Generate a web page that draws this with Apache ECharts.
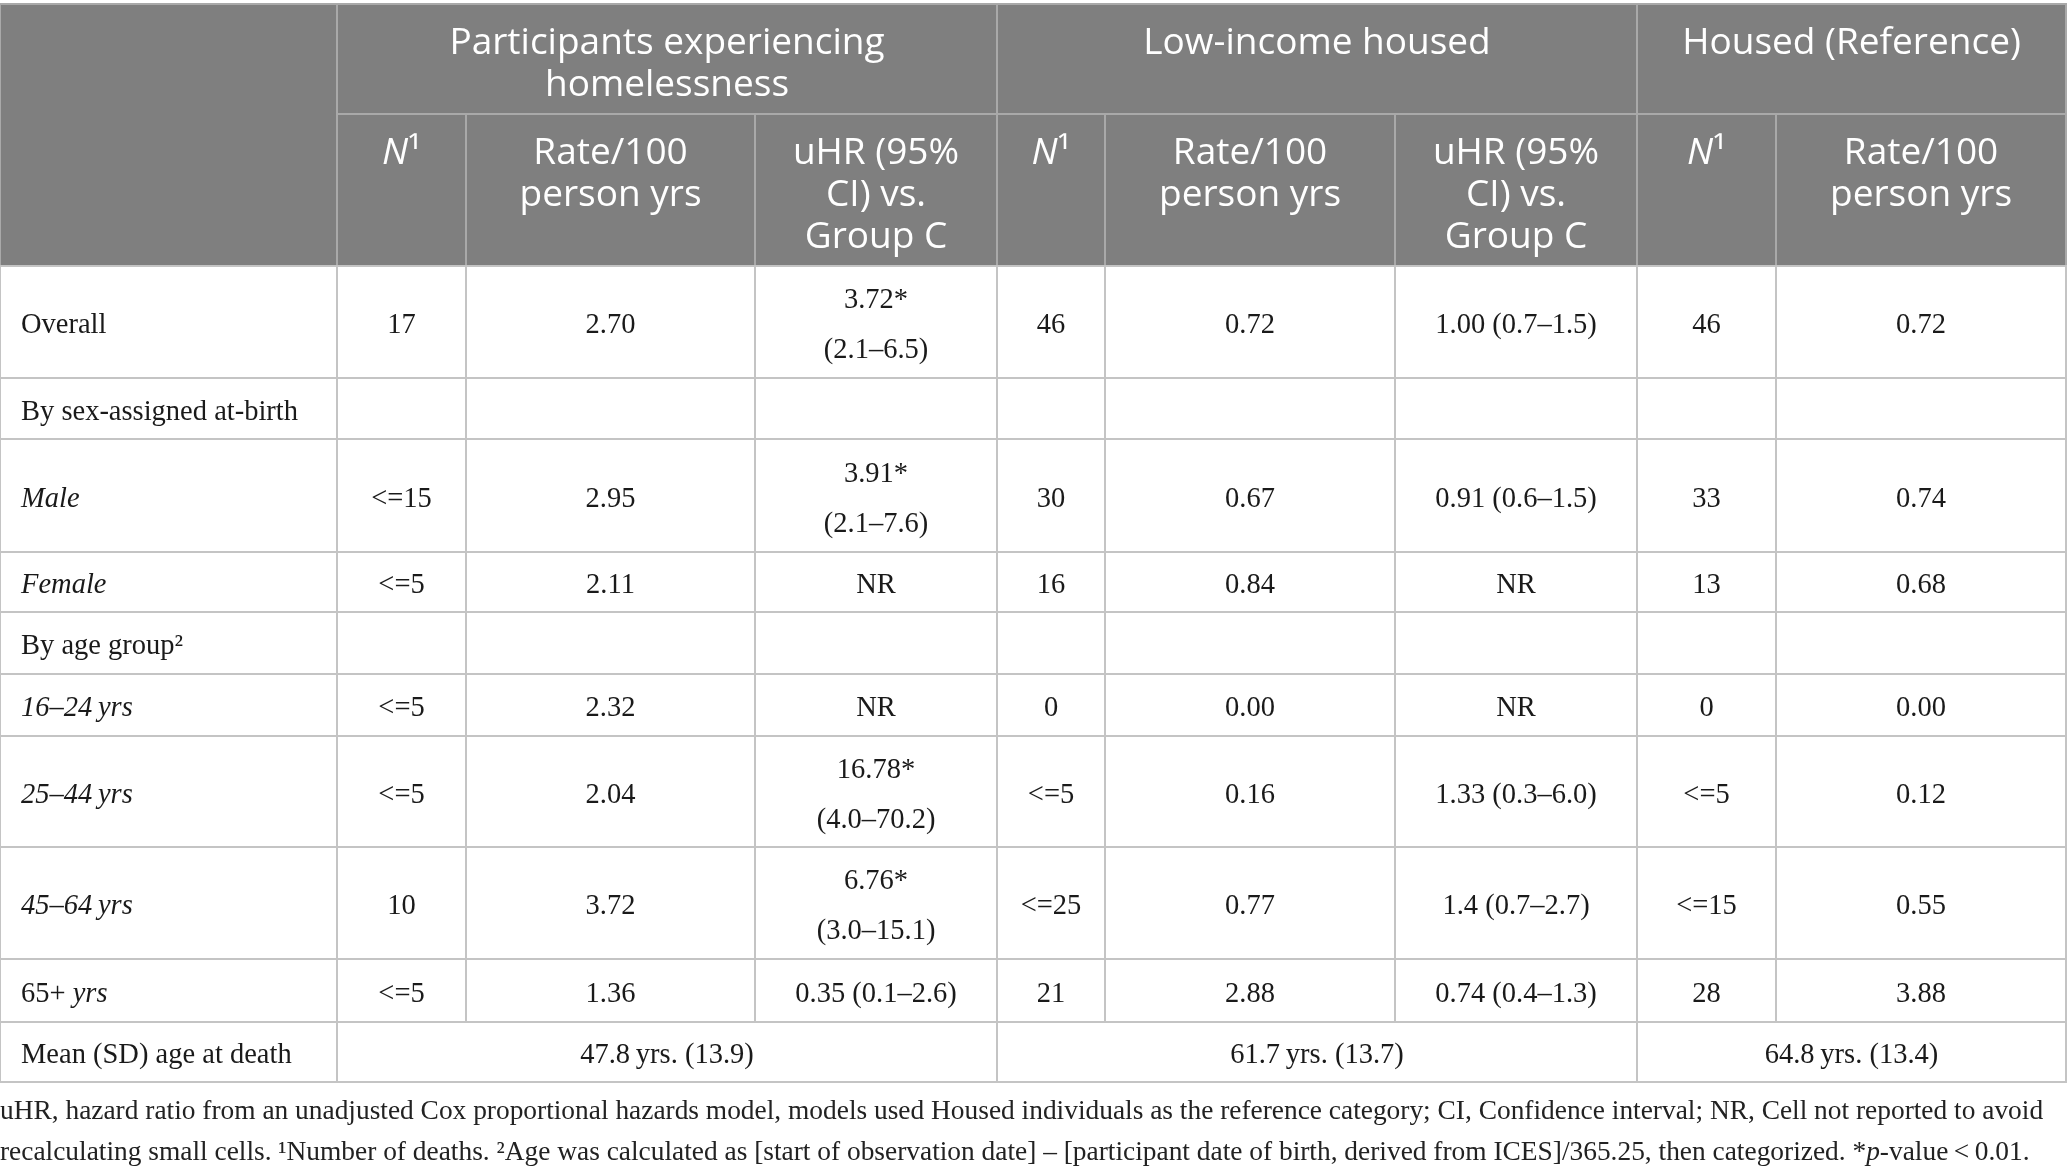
<!DOCTYPE html>
<html>
<head>
<meta charset="utf-8">
<script src="https://cdn.jsdelivr.net/npm/echarts@6/dist/echarts.min.js"></script>
<style>html,body{margin:0;padding:0;background:#fff}#c{width:2067px;height:1174px}</style>
</head>
<body>
<div id="c"></div>
<script>
// ---------- DATA ----------
const groupHeaders = ['Participants experiencing\nhomelessness', 'Low-income housed', 'Housed (Reference)'];
const subHeaders = ['{hi|N}¹', 'Rate/100\nperson yrs', 'uHR (95%\nCI) vs.\nGroup C',
                    '{hi|N}¹', 'Rate/100\nperson yrs', 'uHR (95%\nCI) vs.\nGroup C',
                    '{hi|N}¹', 'Rate/100\nperson yrs'];
const rowLabels = ['Overall', 'By sex-assigned at-birth', '{i|Male}', '{i|Female}', 'By age group²',
                   '{i|16–24\u2009yrs}', '{i|25–44\u2009yrs}', '{i|45–64\u2009yrs}', '65+ {i|yrs}', 'Mean (SD) age at death'];
const homelessN    = ['17', '', '<=15', '<=5', '', '<=5', '<=5', '10', '<=5'];
const homelessRate = ['2.70', '', '2.95', '2.11', '', '2.32', '2.04', '3.72', '1.36'];
const homelessHR   = ['3.72*\n(2.1–6.5)', '', '3.91*\n(2.1–7.6)', 'NR', '', 'NR', '16.78*\n(4.0–70.2)', '6.76*\n(3.0–15.1)', '0.35 (0.1–2.6)'];
const lowIncN      = ['46', '', '30', '16', '', '0', '<=5', '<=25', '21'];
const lowIncRate   = ['0.72', '', '0.67', '0.84', '', '0.00', '0.16', '0.77', '2.88'];
const lowIncHR     = ['1.00 (0.7–1.5)', '', '0.91 (0.6–1.5)', 'NR', '', 'NR', '1.33 (0.3–6.0)', '1.4 (0.7–2.7)', '0.74 (0.4–1.3)'];
const housedN      = ['46', '', '33', '13', '', '0', '<=5', '<=15', '28'];
const housedRate   = ['0.72', '', '0.74', '0.68', '', '0.00', '0.12', '0.55', '3.88'];
const meanAge      = ['47.8\u2009yrs. (13.9)', '61.7\u2009yrs. (13.7)', '64.8\u2009yrs. (13.4)'];
const footnoteLines = [
  'uHR, hazard ratio from an unadjusted Cox proportional hazards model, models used Housed individuals as the reference category; CI, Confidence interval; NR, Cell not reported to avoid',
  'recalculating small cells. ¹Number of deaths. ²Age was calculated as [start of observation date] – [participant date of birth, derived from ICES]/365.25, then categorized. *{i|p}-value\u2009<\u20090.01.'
];

// ---------- LAYOUT ----------
const colEdges = [0, 337, 466, 755, 997, 1105, 1395, 1637, 1776, 2066];
const rowEdges = [4, 114, 266, 378, 439, 552, 612, 674, 736, 847, 959, 1022, 1082];
const groupSpans = [[1, 4], [4, 7], [7, 9]];

const HEAD_FONT = 'Open Sans';
const BODY_FONT = 'Liberation Serif';
const HEAD_SIZE = 37, BODY_SIZE = 28.5, FOOT_SIZE = 27.4;

// build cell list
const cells = [];
cells.push({c0: 0, c1: 1, r0: 0, r1: 2, text: '', kind: 'head'});
groupHeaders.forEach((t, i) => cells.push({c0: groupSpans[i][0], c1: groupSpans[i][1], r0: 0, r1: 1, text: t, kind: 'head'}));
subHeaders.forEach((t, i) => cells.push({c0: i + 1, c1: i + 2, r0: 1, r1: 2, text: t, kind: 'head'}));
const valueCols = [homelessN, homelessRate, homelessHR, lowIncN, lowIncRate, lowIncHR, housedN, housedRate];
rowLabels.forEach((lab, i) => {
  const r = i + 2;
  cells.push({c0: 0, c1: 1, r0: r, r1: r + 1, text: lab, kind: 'body', left: true});
  if (i < 9) {
    valueCols.forEach((arr, j) => cells.push({c0: j + 1, c1: j + 2, r0: r, r1: r + 1, text: arr[i], kind: 'body'}));
  } else {
    meanAge.forEach((t, k) => cells.push({c0: groupSpans[k][0], c1: groupSpans[k][1], r0: r, r1: r + 1, text: t, kind: 'body'}));
  }
});

const cellData = cells.map(c => [colEdges[c.c0], rowEdges[c.r0], colEdges[c.c1], rowEdges[c.r1]]);

function renderItem(params, api) {
  const c = cells[params.dataIndex];
  const p0 = api.coord([api.value(0), api.value(1)]);
  const p1 = api.coord([api.value(2), api.value(3)]);
  const x = p0[0], y = Math.min(p0[1], p1[1]);
  const w = p1[0] - p0[0], h = Math.abs(p1[1] - p0[1]);
  const head = c.kind === 'head';
  const children = [{
    type: 'rect',
    shape: {x: x, y: y, width: w, height: h},
    style: {fill: head ? '#7f7f7f' : '#ffffff', stroke: head ? '#a9a9a9' : '#c4c4c4', lineWidth: 2}
  }];
  if (c.text) {
    const fam = head ? HEAD_FONT : BODY_FONT;
    const size = head ? HEAD_SIZE : BODY_SIZE;
    const lh = head ? 42 : 50;
    const color = head ? '#ffffff' : '#1a1a1a';
    children.push({
      type: 'text',
      style: {
        text: c.text,
        x: c.left ? x + 21 : x + w / 2,
        y: head ? y + 18 : y + h / 2 + 4,
        align: c.left ? 'left' : 'center',
        verticalAlign: head ? 'top' : 'middle',
        textAlign: c.left ? 'left' : 'center',
        textVerticalAlign: head ? 'top' : 'middle',
        fontFamily: fam, fontSize: size, lineHeight: lh, fill: color,
        rich: {
          i: {fontFamily: fam, fontSize: size, fontStyle: 'italic', lineHeight: lh, fill: color},
          hi: {fontFamily: fam, fontSize: size, fontStyle: 'italic', lineHeight: lh, fill: color}
        }
      }
    });
  }
  return {type: 'group', children: children};
}

const chart = echarts.init(document.getElementById('c'), null, {renderer: 'canvas'});
chart.setOption({
  animation: false,
  backgroundColor: '#ffffff',
  grid: {left: 0, right: 0, top: 0, bottom: 0},
  xAxis: {type: 'value', min: 0, max: 2067, show: false},
  yAxis: {type: 'value', min: 0, max: 1174, inverse: true, show: false},
  title: {
    text: footnoteLines.join('\n'),
    left: 0, top: 1091, padding: 0,
    textStyle: {
      fontFamily: BODY_FONT, fontSize: FOOT_SIZE, lineHeight: 41, color: '#222222', fontWeight: 'normal',
      rich: {i: {fontFamily: BODY_FONT, fontSize: FOOT_SIZE, lineHeight: 41, fontStyle: 'italic', color: '#222222'}}
    }
  },
  series: [{
    type: 'custom',
    coordinateSystem: 'cartesian2d',
    renderItem: renderItem,
    encode: {x: [0, 2], y: [1, 3]},
    clip: false,
    data: cellData
  }]
});
</script>
</body>
</html>
